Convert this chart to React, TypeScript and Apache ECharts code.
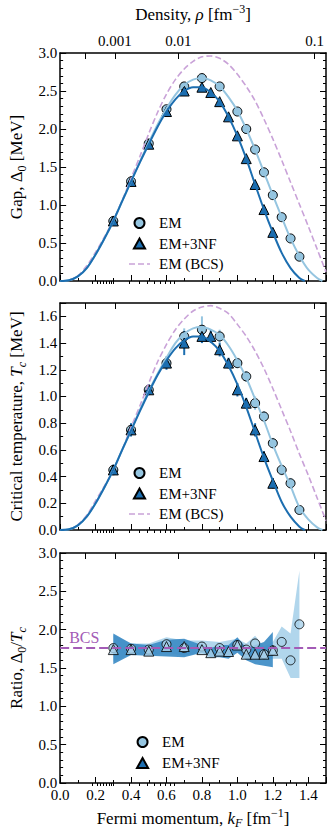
import React, { useEffect, useRef } from "react";
import * as echarts from "echarts";

// ---------- data ----------
const kfEm = [0.3, 0.4, 0.5, 0.6, 0.7, 0.8, 0.9, 1.0, 1.05, 1.1, 1.15, 1.2, 1.25, 1.3, 1.35];
const kf3nf = [0.3, 0.4, 0.5, 0.6, 0.7, 0.8, 0.85, 0.9, 0.95, 1.0, 1.05, 1.1, 1.15, 1.2];

const gapEm = [0.79, 1.31, 1.81, 2.26, 2.56, 2.67, 2.56, 2.23, 2.0, 1.73, 1.43, 1.13, 0.84, 0.56, 0.32];
const gap3nf = [0.79, 1.31, 1.8, 2.23, 2.5, 2.55, 2.48, 2.36, 2.16, 1.91, 1.61, 1.27, 0.94, 0.64];

const tcEm = [0.45, 0.75, 1.05, 1.25, 1.45, 1.5, 1.45, 1.25, 1.15, 0.95, 0.85, 0.65, 0.45, 0.35, 0.15];
const tc3nf = [0.45, 0.75, 1.05, 1.25, 1.4, 1.45, 1.45, 1.35, 1.25, 1.05, 0.95, 0.75, 0.55, 0.35];
const tcEmErr = [0.03, 0.04, 0.04, 0.04, 0.06, 0.1, 0.05, 0.04, 0.04, 0.05, 0.04, 0.04, 0.04, 0.04, 0.03];
const tc3nfErr = [0.04, 0.05, 0.04, 0.05, 0.09, 0.05, 0.05, 0.05, 0.04, 0.05, 0.04, 0.05, 0.04, 0.04];

const ratioEm = [1.76, 1.75, 1.74, 1.81, 1.76, 1.78, 1.76, 1.8, 1.74, 1.82, 1.68, 1.73, 1.84, 1.6, 2.07];
const ratio3nf = [1.74, 1.74, 1.72, 1.78, 1.78, 1.74, 1.7, 1.72, 1.715, 1.8, 1.68, 1.68, 1.68, 1.73];
const bandEmLo = [1.58, 1.68, 1.66, 1.7, 1.66, 1.7, 1.68, 1.72, 1.66, 1.7, 1.6, 1.62, 1.62, 1.37, 1.37];
const bandEmHi = [1.93, 1.82, 1.82, 1.9, 1.86, 1.86, 1.84, 1.88, 1.82, 1.92, 1.78, 1.84, 2.04, 1.95, 2.77];
const band3nfLo = [1.55, 1.67, 1.66, 1.65, 1.64, 1.7, 1.64, 1.64, 1.62, 1.7, 1.6, 1.55, 1.53, 1.51];
const band3nfHi = [1.95, 1.82, 1.8, 1.87, 1.88, 1.8, 1.76, 1.8, 1.8, 1.9, 1.76, 1.8, 1.84, 1.97];
const bcsRatio = 1.764;

// curves
const curveKf3nf = [0, 0.05, 0.1, 0.15, 0.2, 0.25, 0.3, 0.35, 0.4, 0.45, 0.5, 0.55, 0.6, 0.65, 0.7, 0.75, 0.8, 0.85, 0.9, 0.95, 1.0, 1.05, 1.1, 1.15, 1.2, 1.25, 1.3, 1.35, 1.38];
const gapCurve3nf = [0, 0.01, 0.06, 0.17, 0.35, 0.56, 0.79, 1.05, 1.31, 1.56, 1.8, 2.03, 2.23, 2.39, 2.5, 2.55, 2.55, 2.48, 2.36, 2.16, 1.91, 1.61, 1.27, 0.94, 0.64, 0.37, 0.17, 0.04, 0];
const tcCurve3nf = [0, 0.005, 0.035, 0.1, 0.2, 0.32, 0.45, 0.6, 0.745, 0.89, 1.03, 1.16, 1.27, 1.36, 1.42, 1.45, 1.45, 1.41, 1.34, 1.23, 1.09, 0.92, 0.73, 0.54, 0.37, 0.21, 0.1, 0.025, 0];

const curveKfEm = [0, 0.05, 0.1, 0.15, 0.2, 0.25, 0.3, 0.35, 0.4, 0.45, 0.5, 0.55, 0.6, 0.65, 0.7, 0.75, 0.8, 0.85, 0.9, 0.95, 1.0, 1.05, 1.1, 1.15, 1.2, 1.25, 1.3, 1.35, 1.4, 1.45, 1.48];
const gapCurveEm = [0, 0.01, 0.06, 0.17, 0.35, 0.56, 0.79, 1.05, 1.31, 1.57, 1.82, 2.06, 2.27, 2.45, 2.58, 2.65, 2.67, 2.64, 2.56, 2.42, 2.24, 2.0, 1.73, 1.43, 1.13, 0.84, 0.56, 0.33, 0.15, 0.04, 0];
const tcCurveEm = [0, 0.005, 0.035, 0.1, 0.2, 0.32, 0.45, 0.6, 0.745, 0.9, 1.04, 1.17, 1.29, 1.4, 1.47, 1.51, 1.52, 1.5, 1.46, 1.38, 1.27, 1.14, 0.98, 0.82, 0.64, 0.48, 0.33, 0.17, 0.08, 0.02, 0];

const curveKfBcs = [0, 0.05, 0.1, 0.15, 0.2, 0.25, 0.3, 0.35, 0.4, 0.45, 0.5, 0.55, 0.6, 0.65, 0.7, 0.75, 0.8, 0.85, 0.9, 0.95, 1.0, 1.05, 1.1, 1.15, 1.2, 1.25, 1.3, 1.35, 1.4, 1.45, 1.5];
const gapCurveBcs = [0, 0.01, 0.07, 0.2, 0.38, 0.58, 0.8, 1.06, 1.35, 1.64, 1.94, 2.22, 2.46, 2.65, 2.79, 2.89, 2.95, 2.96, 2.93, 2.85, 2.72, 2.56, 2.37, 2.13, 1.87, 1.59, 1.3, 1.01, 0.72, 0.42, 0.12];
const tcCurveBcs = [0, 0.005, 0.04, 0.11, 0.22, 0.33, 0.45, 0.6, 0.77, 0.93, 1.1, 1.26, 1.39, 1.5, 1.58, 1.64, 1.67, 1.68, 1.66, 1.62, 1.54, 1.45, 1.34, 1.21, 1.06, 0.9, 0.74, 0.57, 0.41, 0.24, 0.07];

// top axis: density tick values (fm^-3)
const densityLabelValues = [0.001, 0.01, 0.1];
const densityLabels = ["0.001", "0.01", "0.1"];
const densityMajor = [0.0001, 0.001, 0.01, 0.1];
const densityDecades = [0.0001, 0.001, 0.01, 0.1];
const densityMantissas = [2, 3, 4, 5, 6, 7, 8, 9];

// ---------- style ----------
const FONT = "Liberation Serif";
const LIGHT = "#95c5e0";
const DARK = "#1c6eb0";
const BCS_LIGHT = "#c9a2d8";
const BCS_DARK = "#a35bb6";

const toKf = (rho: number) => Math.cbrt(3 * Math.PI * Math.PI * rho);
const pairs = (xs: number[], ys: number[]) => xs.map((x, i) => [x, ys[i]]);

const GRIDS = [
  { left: 53, top: 53, width: 273, height: 228 },
  { left: 53, top: 303, width: 273, height: 227 },
  { left: 53, top: 553, width: 273, height: 231 },
];

const rich = {
  a: { fontFamily: FONT, fontSize: 17, color: "#000", lineHeight: 22, verticalAlign: "middle" },
  i: { fontFamily: FONT, fontSize: 17, color: "#000", fontStyle: "italic", lineHeight: 22, verticalAlign: "middle" },
  s: { fontFamily: FONT, fontSize: 12, color: "#000", lineHeight: 12, verticalAlign: "bottom" },
  si: { fontFamily: FONT, fontSize: 12, color: "#000", fontStyle: "italic", lineHeight: 12, verticalAlign: "bottom" },
  p: { fontFamily: FONT, fontSize: 12, color: "#000", lineHeight: 12, verticalAlign: "top" },
};

export default function App() {
  const ref = useRef<HTMLDivElement>(null);
  useEffect(() => {
    if (!ref.current) return;
    const chart = echarts.init(ref.current, null, { renderer: "svg" });

    const minorKf: number[] = [];
    densityDecades.forEach((d) =>
      densityMantissas.forEach((m) => {
        const k = toKf(m * d);
        if (k <= 1.5) minorKf.push(k);
      })
    );
    const majorKf = densityMajor.map(toKf).filter((k) => k <= 1.5);
    const labelKf = densityLabelValues.map(toKf);

    const axisLine = { show: true, onZero: false, lineStyle: { color: "#000", width: 1.5 } };
    const tickLabel = { fontFamily: FONT, fontSize: 15, color: "#000", fontWeight: "normal" };

    const xAxes: any[] = [];
    const yAxes: any[] = [];
    const yCfg = [
      { max: 3, interval: 0.5, minor: 5, name: "{a|Gap, Δ}{s|0}{a| [MeV]}" },
      { max: 1.7, interval: 0.2, minor: 2, name: "{a|Critical temperature, }{i|T}{si|c}{a| [MeV]}" },
      { max: 3, interval: 0.5, minor: 5, name: "{a|Ratio, Δ}{s|0}{a|/}{i|T}{si|c}" },
    ];
    GRIDS.forEach((_, g) => {
      xAxes.push({
        type: "value", gridIndex: g, min: 0, max: 1.5, interval: 0.2, position: "bottom",
        axisLine, splitLine: { show: false },
        axisTick: { inside: true, length: 6, lineStyle: { color: "#000", width: 1 } },
        minorTick: { show: true, splitNumber: 2, length: 3, lineStyle: { color: "#000", width: 1 } },
        axisLabel: { show: g === 2, showMaxLabel: false, margin: 4, formatter: (v: number) => v.toFixed(1), ...tickLabel },
        name: g === 2 ? "{a|Fermi momentum, }{i|k}{si|F}{a| [fm}{p|−1}{a|]}" : "",
        nameLocation: "middle", nameGap: 24, nameTextStyle: { rich },
      });
      xAxes.push({
        type: "value", gridIndex: g, min: 0, max: 1.5, position: "top",
        axisLine, splitLine: { show: false },
        axisTick: { inside: true, length: 6, customValues: majorKf, lineStyle: { color: "#000", width: 1 } },
        axisLabel: {
          show: g === 0, customValues: labelKf, margin: 5,
          formatter: (v: number) => {
            let best = 0;
            labelKf.forEach((k, i) => { if (Math.abs(k - v) < Math.abs(labelKf[best] - v)) best = i; });
            return densityLabels[best];
          },
          ...tickLabel,
        },
        name: g === 0 ? "{a|Density, }{i|ρ}{a| [fm}{p|−3}{a|]}" : "",
        nameLocation: "middle", nameGap: 28, nameTextStyle: { rich },
      });
      xAxes.push({
        type: "value", gridIndex: g, min: 0, max: 1.5, position: "top",
        axisLine: { show: false }, splitLine: { show: false },
        axisTick: { inside: true, length: 3, customValues: minorKf, lineStyle: { color: "#000", width: 1 } },
        axisLabel: { show: false },
      });
      const c = yCfg[g];
      yAxes.push({
        type: "value", gridIndex: g, min: 0, max: c.max, interval: c.interval, position: "left",
        axisLine, splitLine: { show: false },
        axisTick: { inside: true, length: 6, lineStyle: { color: "#000", width: 1 } },
        minorTick: { show: true, splitNumber: c.minor, length: 3, lineStyle: { color: "#000", width: 1 } },
        axisLabel: { margin: 3, showMaxLabel: c.max === 3, formatter: (v: number) => v.toFixed(1), ...tickLabel },
        name: c.name, nameLocation: "middle", nameGap: 28, nameRotate: 90, nameTextStyle: { rich },
      });
      yAxes.push({
        type: "value", gridIndex: g, min: 0, max: c.max, interval: c.interval, position: "right",
        axisLine, splitLine: { show: false },
        axisTick: { inside: true, length: 6, lineStyle: { color: "#000", width: 1 } },
        minorTick: { show: true, splitNumber: c.minor, length: 3, lineStyle: { color: "#000", width: 1 } },
        axisLabel: { show: false },
      });
    });

    const curve = (name: string, g: number, xs: number[], ys: number[], color: string, dashed = false) => ({
      name, type: "line", xAxisIndex: 3 * g, yAxisIndex: 2 * g, data: pairs(xs, ys),
      smooth: 0.3, symbol: "none", silent: true,
      lineStyle: { color, width: dashed ? 1.6 : 2, type: dashed ? [6, 3] : "solid" },
      itemStyle: { color },
    });
    const scatter = (name: string, g: number, xs: number[], ys: number[], sym: string, fill: string, size: number, opacity = 1) => ({
      name, type: "scatter", xAxisIndex: 3 * g, yAxisIndex: 2 * g, data: pairs(xs, ys),
      symbol: sym, symbolSize: size, silent: true,
      itemStyle: { color: fill, borderColor: "#000", borderWidth: 1, opacity },
    });
    const errBars = (g: number, xs: number[], ys: number[], es: number[], color: string) => ({
      type: "custom", xAxisIndex: 3 * g, yAxisIndex: 2 * g, silent: true,
      data: xs.map((x, i) => [x, ys[i] - es[i], ys[i] + es[i]]),
      encode: { x: 0, y: [1, 2] },
      renderItem: (_p: any, api: any) => {
        const a = api.coord([api.value(0), api.value(1)]);
        const b = api.coord([api.value(0), api.value(2)]);
        return { type: "line", shape: { x1: a[0], y1: a[1], x2: b[0], y2: b[1] }, style: { stroke: color, lineWidth: 2 } };
      },
    });
    const band = (g: number, xs: number[], lo: number[], hi: number[], fill: string, opacity: number) => ({
      type: "custom", xAxisIndex: 3 * g, yAxisIndex: 2 * g, silent: true,
      data: [[xs[0], lo[0]]],
      renderItem: (_p: any, api: any) => {
        const pts: number[][] = [];
        xs.forEach((x, i) => pts.push(api.coord([x, hi[i]])));
        for (let i = xs.length - 1; i >= 0; i--) pts.push(api.coord([xs[i], lo[i]]));
        return { type: "polygon", shape: { points: pts }, style: { fill, opacity } };
      },
    });

    const legendBase = {
      orient: "vertical", padding: 0, itemGap: 4.5, itemWidth: 21, itemHeight: 10,
      selectedMode: false, symbolKeepAspect: true,
      textStyle: { fontFamily: FONT, fontSize: 15, color: "#000", fontWeight: "normal", lineHeight: 16, padding: [0, 0, 0, 4] },
    };
    const dashIcon = "path://M0,0h6v1.6h-6zM9,0h6v1.6h-6zM18,0h3v1.6h-3z";
    const triIcon = "path://M5,0L10,9L0,9Z";
    const legendItems = [
      { name: "EM", icon: "circle" },
      { name: "EM+3NF", icon: triIcon },
      { name: "EM (BCS)", icon: dashIcon },
    ];

    const series: any[] = [
      // panel 1
      curve("EM (BCS)", 0, curveKfBcs, gapCurveBcs, BCS_LIGHT, true),
      curve("EM curve", 0, curveKfEm, gapCurveEm, LIGHT),
      curve("EM+3NF curve", 0, curveKf3nf, gapCurve3nf, DARK),
      scatter("EM", 0, kfEm, gapEm, "circle", LIGHT, 9),
      scatter("EM+3NF", 0, kf3nf, gap3nf, "triangle", DARK, 10),
      // panel 2
      curve("EM (BCS)", 1, curveKfBcs, tcCurveBcs, BCS_LIGHT, true),
      curve("EM curve", 1, curveKfEm, tcCurveEm, LIGHT),
      curve("EM+3NF curve", 1, curveKf3nf, tcCurve3nf, DARK),
      errBars(1, kfEm, tcEm, tcEmErr, LIGHT),
      errBars(1, kf3nf, tc3nf, tc3nfErr, DARK),
      scatter("EM", 1, kfEm, tcEm, "circle", LIGHT, 9),
      scatter("EM+3NF", 1, kf3nf, tc3nf, "triangle", DARK, 10),
      // panel 3
      {
        name: "BCS line", type: "line", xAxisIndex: 6, yAxisIndex: 4, data: [], silent: true,
        markLine: {
          silent: true, symbol: "none", animation: false,
          data: [{ yAxis: bcsRatio }],
          lineStyle: { color: BCS_DARK, width: 1.8, type: [9, 4] },
          label: { show: true, position: "insideStartTop", formatter: "BCS", color: BCS_DARK, fontFamily: FONT, fontSize: 16, distance: [9, 3] },
        },
      },
      band(2, kfEm, bandEmLo, bandEmHi, "#a9d1ea", 0.9),
      band(2, kf3nf, band3nfLo, band3nfHi, "#3d8cc6", 0.92),
      scatter("EM", 2, kfEm, ratioEm, "circle", "#a9d1ea", 9, 0.8),
      scatter("EM+3NF", 2, kf3nf, ratio3nf, "triangle", "#a9d1ea", 10, 0.8),
    ];

    chart.setOption({
      animation: false,
      textStyle: { fontFamily: FONT, fontWeight: "normal" },
      grid: GRIDS.map((g) => ({ ...g, containLabel: false })),
      xAxis: xAxes,
      yAxis: yAxes,
      legend: [
        { ...legendBase, left: 129, top: 215, data: legendItems },
        { ...legendBase, left: 129, top: 465, data: legendItems },
        { ...legendBase, left: 136, top: 734, itemGap: 5, data: legendItems.slice(0, 2) },
      ],
      series,
    });
    return () => chart.dispose();
  }, []);
  return <div ref={ref} style={{ position: "fixed", left: 0, top: 0, width: 332, height: 830, background: "#fff" }} />;
}
